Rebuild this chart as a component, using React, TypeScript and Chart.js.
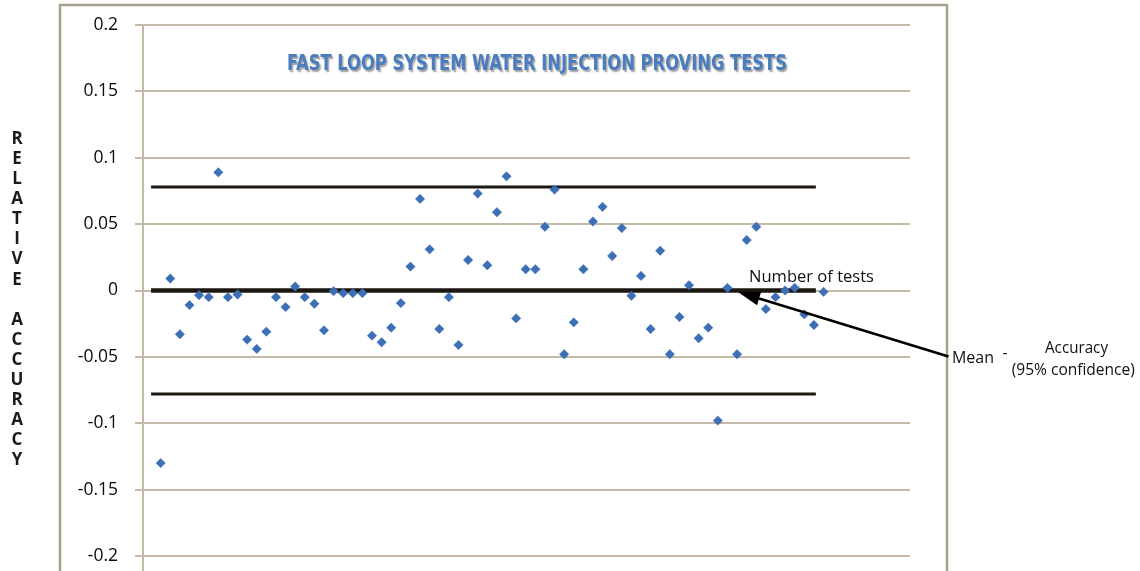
import React, { useEffect, useRef } from "react";
import { Chart, registerables } from "chart.js";

Chart.register(...registerables);

// ---- Data ----
const testNumbers = [
  1, 2, 3, 4, 5, 6, 7, 8, 9, 10, 11, 12, 13, 14, 15, 16, 17, 18, 19, 20,
  21, 22, 23, 24, 25, 26, 27, 28, 29, 30, 31, 32, 33, 34, 35, 36, 37, 38, 39, 40,
  41, 42, 43, 44, 45, 46, 47, 48, 49, 50, 51, 52, 53, 54, 55, 56, 57, 58, 59, 60,
  61, 62, 63, 64, 65, 66, 67, 68, 69, 70,
];
const relativeAccuracy = [
  -0.130, 0.009, -0.033, -0.011, -0.0035, -0.005, 0.089, -0.005, -0.003, -0.037,
  -0.044, -0.031, -0.005, -0.0125, 0.003, -0.005, -0.010, -0.030, -0.0005, -0.002,
  -0.002, -0.002, -0.034, -0.039, -0.028, -0.0095, 0.018, 0.069, 0.031, -0.029,
  -0.005, -0.041, 0.023, 0.073, 0.019, 0.059, 0.086, -0.021, 0.016, 0.016,
  0.048, 0.076, -0.048, -0.024, 0.016, 0.052, 0.063, 0.026, 0.047, -0.004,
  0.011, -0.029, 0.030, -0.048, -0.020, 0.004, -0.036, -0.028, -0.098, 0.002,
  -0.048, 0.038, 0.048, -0.014, -0.005, 0.000, 0.002, -0.018, -0.026, -0.001,
];
const referenceLineX = [0, 69.2];
const meanValue = 0;
const upperLimit = 0.078;
const lowerLimit = -0.078;
const yTickValues = [-0.2, -0.15, -0.1, -0.05, 0, 0.05, 0.1, 0.15, 0.2];
const yTickLabels = ["-0.2", "-0.15", "-0.1", "-0.05", "0", "0.05", "0.1", "0.15", "0.2"];
const arrowTipX = 61.1;

const TITLE = "FAST LOOP SYSTEM WATER INJECTION PROVING TESTS";
const Y_TITLE = "RELATIVE ACCURACY";

const GRID = "#c3baa7";
const FRAME = "#a9a08d";
const LINE = "#1c1710";

function fitText(ctx: CanvasRenderingContext2D, text: string, cx: number, cy: number, width: number) {
  const w = ctx.measureText(text).width;
  ctx.save();
  ctx.translate(cx, cy);
  ctx.scale(width / w, 1);
  ctx.textAlign = "center";
  ctx.textBaseline = "middle";
  ctx.fillText(text, 0, 0);
  ctx.restore();
}

const decorPlugin = {
  id: "decor",
  beforeDraw(chart: any) {
    const ctx = chart.ctx as CanvasRenderingContext2D;
    const { chartArea } = chart;
    ctx.save();
    ctx.strokeStyle = FRAME;
    ctx.lineWidth = 2.5;
    ctx.beginPath();
    ctx.moveTo(60, 571);
    ctx.lineTo(60, 5);
    ctx.lineTo(947, 5);
    ctx.lineTo(947, 571);
    ctx.stroke();
    ctx.strokeStyle = GRID;
    ctx.lineWidth = 2;
    ctx.beginPath();
    ctx.moveTo(chartArea.left, chartArea.bottom);
    ctx.lineTo(chartArea.left, 571);
    ctx.stroke();
    ctx.restore();
  },
  afterDatasetsDraw(chart: any) {
    const ctx = chart.ctx as CanvasRenderingContext2D;
    const xs = chart.scales.x;
    const ys = chart.scales.y;
    ctx.save();

    // title
    ctx.font = "bold 22px 'Liberation Sans Narrow', 'DejaVu Sans Condensed', sans-serif";
    ctx.fillStyle = "#4a7cc0";
    ctx.shadowColor = "rgba(40,40,40,0.45)";
    ctx.shadowOffsetX = 1.5;
    ctx.shadowOffsetY = 1.5;
    ctx.shadowBlur = 1.5;
    fitText(ctx, TITLE, 537, 64.5, 500);
    ctx.shadowColor = "transparent";
    ctx.shadowOffsetX = 0;
    ctx.shadowOffsetY = 0;
    ctx.shadowBlur = 0;

    // vertical stacked y title
    ctx.font = "bold 17px 'Open Sans', sans-serif";
    ctx.fillStyle = "#1a1a1a";
    ctx.textAlign = "center";
    ctx.textBaseline = "middle";
    const letters = Y_TITLE.split("");
    letters.forEach((ch, i) => {
      if (ch !== " ") ctx.fillText(ch, 17, 139 + i * 20.1);
    });

    // annotations
    ctx.fillStyle = "#111";
    ctx.font = "17px 'Open Sans', sans-serif";
    fitText(ctx, "Number of tests", 811.5, 277, 125);
    fitText(ctx, "Mean", 973, 358, 42);
    ctx.font = "15.5px 'Open Sans', sans-serif";
    fitText(ctx, "Accuracy", 1076.5, 349, 63);
    fitText(ctx, "(95% confidence)", 1073.3, 370.5, 123);
    ctx.fillText("-", 1005, 354);

    // arrow
    const tipX = xs.getPixelForValue(arrowTipX);
    const tipY = ys.getPixelForValue(meanValue) + 1.5;
    const tailX = 948.5;
    const tailY = 356.5;
    const ang = Math.atan2(tipY - tailY, tipX - tailX);
    const headLen = 22;
    const headHalf = 7;
    const baseX = tipX - Math.cos(ang) * headLen;
    const baseY = tipY - Math.sin(ang) * headLen;
    ctx.strokeStyle = "#000";
    ctx.lineWidth = 2.5;
    ctx.beginPath();
    ctx.moveTo(tailX, tailY);
    ctx.lineTo(baseX, baseY);
    ctx.stroke();
    ctx.fillStyle = "#000";
    ctx.beginPath();
    ctx.moveTo(tipX, tipY);
    ctx.lineTo(baseX + Math.sin(ang) * headHalf, baseY - Math.cos(ang) * headHalf);
    ctx.lineTo(baseX - Math.sin(ang) * headHalf, baseY + Math.cos(ang) * headHalf);
    ctx.closePath();
    ctx.fill();

    ctx.restore();
  },
};

export default function App() {
  const ref = useRef<HTMLCanvasElement | null>(null);
  useEffect(() => {
    document.body.style.margin = "0";
    document.body.style.overflow = "hidden";
    const canvas = ref.current;
    if (!canvas) return;
    const points = testNumbers.map((x, i) => ({ x, y: relativeAccuracy[i] }));
    const mkLine = (v: number) => referenceLineX.map((x) => ({ x, y: v }));
    const chart = new Chart(canvas, {
      type: "scatter",
      data: {
        datasets: [
          {
            label: "Relative accuracy",
            data: points,
            pointStyle: "rectRot",
            pointRadius: 4.7,
            pointBackgroundColor: "#3d6fb6",
            pointBorderColor: "#3d6fb6",
            pointBorderWidth: 0.5,
            showLine: false,
          },
          {
            label: "Mean",
            data: mkLine(meanValue),
            showLine: true,
            borderColor: LINE,
            borderWidth: 4.5,
            pointRadius: 0,
          },
          {
            label: "Upper",
            data: mkLine(upperLimit),
            showLine: true,
            borderColor: LINE,
            borderWidth: 3,
            pointRadius: 0,
          },
          {
            label: "Lower",
            data: mkLine(lowerLimit),
            showLine: true,
            borderColor: LINE,
            borderWidth: 3,
            pointRadius: 0,
          },
        ],
      },
      options: {
        responsive: false,
        animation: false,
        devicePixelRatio: 1,
        layout: { padding: { left: 0, right: 230, top: 25, bottom: 15 } },
        plugins: {
          legend: { display: false },
          title: { display: false },
          tooltip: { enabled: false },
        },
        scales: {
          x: {
            type: "linear",
            min: -0.84,
            max: 79,
            display: false,
          },
          y: {
            type: "linear",
            min: -0.2,
            max: 0.2,
            afterBuildTicks: (axis: any) => {
              axis.ticks = yTickValues.map((v) => ({ value: v }));
            },
            afterFit: (axis: any) => {
              axis.width = 143;
              axis.paddingTop = 0;
              axis.paddingBottom = 0;
            },
            ticks: {
              padding: 17,
              color: "#0a0a0a",
              font: { family: "'Open Sans', sans-serif", size: 17.5 },
              callback: (value: any) => {
                const idx = yTickValues.findIndex((t) => Math.abs(t - Number(value)) < 1e-9);
                return idx >= 0 ? yTickLabels[idx] : "";
              },
            },
            grid: {
              color: GRID,
              lineWidth: 2,
              tickLength: 8,
            },
            border: { display: true, color: GRID, width: 2 },
          },
        },
      },
      plugins: [decorPlugin],
    } as any);
    return () => chart.destroy();
  }, []);
  return (
    <div style={{ width: 1140, height: 571 }}>
      <canvas ref={ref} width={1140} height={571} style={{ display: "block" }} />
    </div>
  );
}
